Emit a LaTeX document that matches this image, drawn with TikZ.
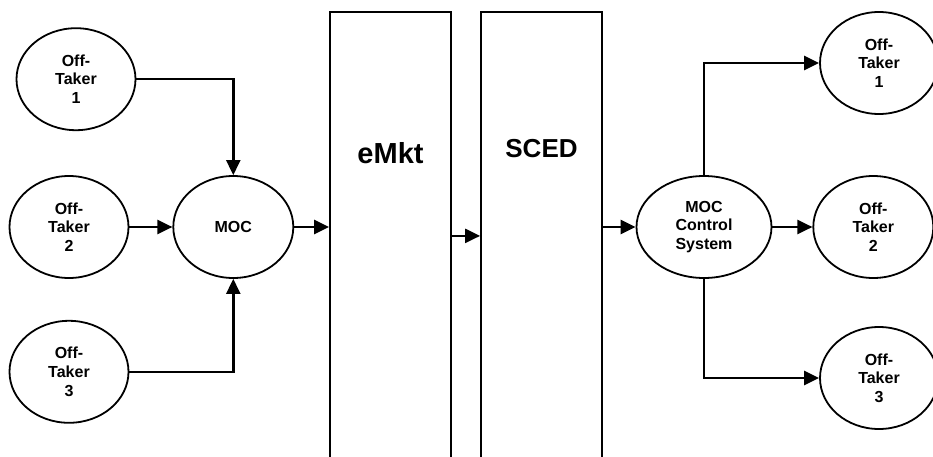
\documentclass[tikz,border=0pt]{standalone}
\usepackage{fontspec}
\setmainfont{Liberation Sans}
\usetikzlibrary{positioning,shapes.geometric,arrows.meta}

\begin{document}
\begin{tikzpicture}[x=1pt,y=1pt,auto,>={Triangle[length=15pt,width=14pt]}]
	\tikzstyle{oval}=[ellipse,draw,line width=1.8pt,inner sep=0pt,align=center,font=\fontsize{16}{18.7}\selectfont\bfseries,minimum width=119pt,minimum height=102pt]
	\tikzstyle{block}=[rectangle,draw,line width=1.8pt,minimum width=121pt,minimum height=470pt,anchor=north]
	\tikzstyle{flow}=[line width=2.4pt]
	\useasboundingbox (0,0) rectangle (933,456);
		\node[oval] (ot2L) at (69,229) {Off-\\Taker\\2};
		\node[oval] (ot1L) [above=44pt of ot2L, xshift=7pt] {Off-\\Taker\\1};
		\node[oval] (ot3L) [below=41pt of ot2L] {Off-\\Taker\\3};
		\node[oval, minimum width=120pt] (moc) [right=43pt of ot2L] {MOC};
		\node[block, label={[anchor=base,yshift=-152pt,font=\fontsize{29}{30}\selectfont\bfseries]north:eMkt}] (emkt) at (390.5,445) {};
		\node[block, label={[anchor=base,yshift=-146pt,font=\fontsize{26}{27}\selectfont\bfseries]north:SCED}] (sced) at (541.5,445) {};
		\node[oval, minimum width=135pt] (mocc) at (704,229) {MOC\\Control\\System};
		\node[oval, minimum width=120pt] (ot2R) [right=40pt of mocc] {Off-\\Taker\\2};
		\node[oval, minimum width=118pt] (ot1R) at (879,393) {Off-\\Taker\\1};
		\node[oval, minimum width=118pt] (ot3R) at (879,78) {Off-\\Taker\\3};
			\draw[->,flow] (ot1L.east) -| (moc.north);
			\draw[->,flow] (ot2L) -- (moc);
			\draw[->,flow] (ot3L.east) -| (moc.south);
			\draw[->,flow] (moc) -- (moc -| emkt.west);
			\draw[->,flow] ([yshift=11pt]emkt.east) -- ([yshift=11pt]sced.west);
			\draw[->,flow] (mocc -| sced.east) -- (mocc);
			\draw[->,flow] (mocc.north) |- (ot1R);
			\draw[->,flow] (mocc) -- (ot2R);
			\draw[->,flow] (mocc.south) |- (ot3R);
\end{tikzpicture}
\end{document}
